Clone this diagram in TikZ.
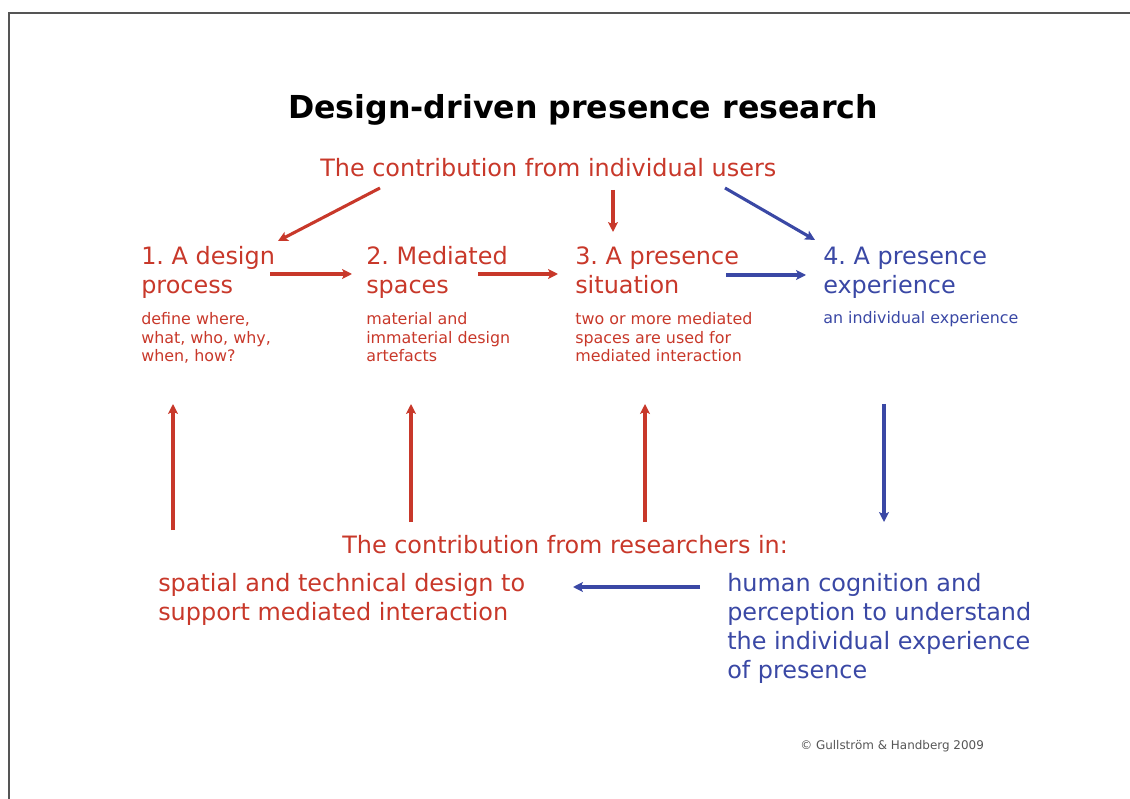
\documentclass[tikz,border=0pt]{standalone}
\usepackage{fontspec}
\setmainfont{DejaVu Sans}
\usetikzlibrary{arrows.meta}
\definecolor{dred}{RGB}{200,56,42}
\definecolor{dblue}{RGB}{58,72,165}
\definecolor{frame}{RGB}{85,85,85}
\frenchspacing

\begin{document}
\begin{tikzpicture}[x=0.025cm,y=-0.025cm, every node/.style={inner sep=0pt,anchor=base west,align=left},
  stage/.style={font=\fontsize{17}{21.3}\selectfont},
  desc/.style={font=\fontsize{11.3}{13.5}\selectfont},
  lower/.style={font=\fontsize{17}{20.6}\selectfont},
  link/.style={line width=2.2pt,-{Stealth[length=7pt,width=7pt,inset=1.5pt]}},]
    \useasboundingbox (0,0) rectangle (1130,799);
    \draw[frame,line width=1.6pt] (9,799) -- (9,13) -- (1130,13);
    \node (title) at (288,119) {\fontsize{22.5}{27}\selectfont\bfseries Design-driven presence research};
    \node[stage,dred] (users) at (320,177) {The contribution from individual users};
    % the four stages (base = last line)
    \node[stage,dred] (p1) at (141,294) {1. A design\\process};
	\node[stage,dred] (p2) at (366,294) {2. Mediated\\spaces};
	\node[stage,dred] (p3) at (575,294) {3. A presence\\situation};
	\node[stage,dblue] (p4) at (823,294) {4. A presence\\experience};
    \node[desc,dred] (d1) at (141,362) {define where,\\what, who, why,\\when, how?};
	\node[desc,dred] (d2) at (366,362) {material and\\immaterial design\\artefacts};
	\node[desc,dred] (d3) at (575,362) {two or more mediated\\spaces are used for\\mediated interaction};
	\node[desc,dblue] (d4) at (823,324) {an individual experience};
    % researchers
    \node[stage,dred] (res) at (342,553) {The contribution from researchers in:};
    \node[lower,dred] (spatial) at (158,620) {spatial and technical design to\\support mediated interaction};
    \node[lower,dblue] (human) at (727,678) {human cognition and\\perception to understand\\the individual experience\\of presence};
    \node[font=\fontsize{8.5}{10}\selectfont,frame] (copy) at (800,749) {\textcopyright{} Gullström \& Handberg 2009};
    % arrow ends
    \coordinate (u1) at (380,188); \coordinate (u1e) at (278,241);
    \coordinate (u3) at (613,190); \coordinate (u3e) at (613,232);
    \coordinate (u4) at (725,188); \coordinate (u4e) at (815,240);
    \coordinate (s1) at (270,274); \coordinate (s1e) at (352,274);
    \coordinate (s2) at (478,274); \coordinate (s2e) at (558,274);
    \coordinate (s3) at (726,275); \coordinate (s3e) at (806,275);
    \coordinate (r1) at (173,530); \coordinate (r1e) at (173,404);
    \coordinate (r2) at (411,522); \coordinate (r2e) at (411,404);
    \coordinate (r3) at (645,522); \coordinate (r3e) at (645,404);
    \coordinate (r4) at (884,404); \coordinate (r4e) at (884,522);
    \coordinate (h1) at (700,587); \coordinate (h1e) at (573,587);
    \draw[link,dred] (u1) -- (u1e);
    \draw[link,dred] (u3) -- (u3e);
    \draw[link,dblue] (u4) -- (u4e);
    \draw[link,dred] (s1) -- (s1e);
    \draw[link,dred] (s2) -- (s2e);
    \draw[link,dblue] (s3) -- (s3e);
    \draw[link,dred] (r1) -- (r1e);
    \draw[link,dred] (r2) -- (r2e);
    \draw[link,dred] (r3) -- (r3e);
    \draw[link,dblue] (r4) -- (r4e);
    \draw[link,dblue] (h1) -- (h1e);
\end{tikzpicture}
\end{document}
